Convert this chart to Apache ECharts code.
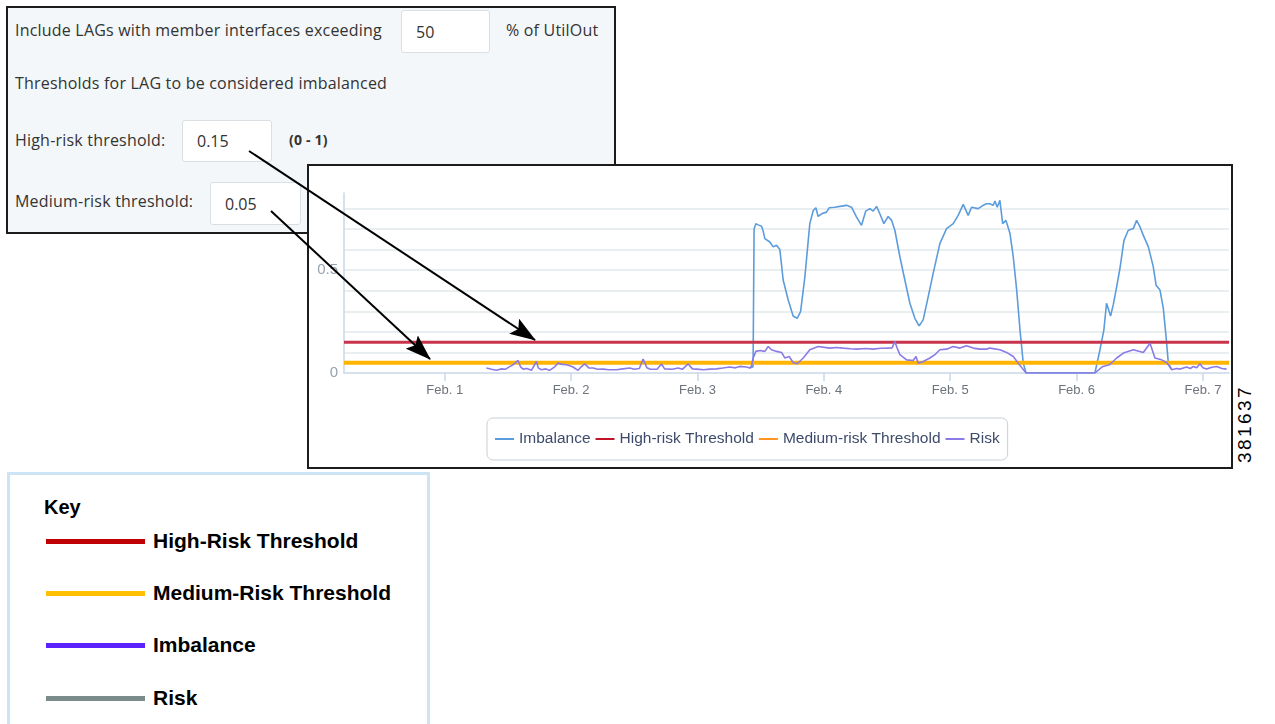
<!DOCTYPE html>
<html>
<head>
<meta charset="utf-8">
<script src="https://cdn.jsdelivr.net/npm/echarts@6/dist/echarts.min.js"></script>
<style>
html,body{margin:0;padding:0;background:#fff;width:1275px;height:724px;overflow:hidden;position:relative;font-family:"Open Sans",sans-serif;}
.abs{position:absolute;}
#form{left:6px;top:6px;width:610px;height:228px;box-sizing:border-box;border:2px solid #1c1c1c;background:#f3f7f9;z-index:1;}
.ft{position:absolute;font-size:16px;color:#333;letter-spacing:0.2px;white-space:nowrap;line-height:20px;}
.inp{position:absolute;background:#fff;border:1px solid #d9dfe3;border-radius:3px;box-sizing:border-box;}
.inp span{position:absolute;left:14px;top:50%;transform:translateY(-50%);font-size:16px;color:#333;}
#chartbox{left:307px;top:164px;width:926px;height:305px;box-sizing:border-box;border:2px solid #1c1c1c;background:#fff;z-index:2;}
#chart{position:absolute;left:0;top:0;width:922px;height:301px;}
#arrows{left:0;top:0;z-index:5;pointer-events:none;}
#key{left:7px;top:472px;width:423px;height:255px;box-sizing:border-box;border:3px solid #cde4f5;background:#fff;}
.kt{position:absolute;font-family:"Liberation Sans",Arial,sans-serif;font-weight:bold;color:#000;white-space:nowrap;line-height:24px;}
.kl{position:absolute;height:5px;width:99px;}
#code{left:1245px;top:424px;font-family:"Liberation Sans",Arial,sans-serif;font-size:19px;letter-spacing:2.4px;color:#000;transform:translate(-50%,-50%) rotate(-90deg);white-space:nowrap;}
</style>
</head>
<body>
<div id="form" class="abs">
  <div class="ft" style="left:7px;top:12px;">Include LAGs with member interfaces exceeding</div>
  <div class="inp" style="left:393px;top:2px;width:89px;height:43px;"><span>50</span></div>
  <div class="ft" style="left:498px;top:12px;">% of UtilOut</div>
  <div class="ft" style="left:7px;top:65px;">Thresholds for LAG to be considered imbalanced</div>
  <div class="ft" style="left:7px;top:122px;">High-risk threshold:</div>
  <div class="inp" style="left:174px;top:112px;width:90px;height:42px;"><span>0.15</span></div>
  <div class="ft" style="left:281px;top:122px;font-size:14px;font-weight:bold;">(0 - 1)</div>
  <div class="ft" style="left:7px;top:183px;">Medium-risk threshold:</div>
  <div class="inp" style="left:202px;top:174px;width:91px;height:43px;"><span>0.05</span></div>
</div>

<div id="chartbox" class="abs"><div id="chart"></div></div>

<svg id="arrows" class="abs" width="1275" height="724">
  <defs>
    <marker id="ah" viewBox="0 0 26 18" refX="25" refY="9" markerWidth="26" markerHeight="18" markerUnits="userSpaceOnUse" orient="auto">
      <path d="M0,0 L26,9 L0,18 L5,9 Z" fill="#000"/>
    </marker>
  </defs>
  <line x1="249" y1="151" x2="535" y2="340" stroke="#000" stroke-width="2" marker-end="url(#ah)"/>
  <line x1="271" y1="211" x2="430" y2="359" stroke="#000" stroke-width="2" marker-end="url(#ah)"/>
</svg>

<div id="key" class="abs">
  <div class="kt" style="left:34px;top:20px;font-size:20px;">Key</div>
  <div class="kl" style="left:36px;top:64px;background:#c00000;"></div>
  <div class="kt" style="left:143px;top:54px;font-size:21px;">High-Risk Threshold</div>
  <div class="kl" style="left:36px;top:116px;background:#ffc000;"></div>
  <div class="kt" style="left:143px;top:106px;font-size:21px;">Medium-Risk Threshold</div>
  <div class="kl" style="left:36px;top:168px;background:#5b22ff;"></div>
  <div class="kt" style="left:143px;top:158px;font-size:21px;">Imbalance</div>
  <div class="kl" style="left:36px;top:221px;background:#7b8a8b;"></div>
  <div class="kt" style="left:143px;top:211px;font-size:21px;">Risk</div>
</div>

<div id="code" class="abs">381637</div>

<script>
// ---- data ----
const dayTicks = [1, 2, 3, 4, 5, 6, 7];
const tickLabels = ['Feb. 1', 'Feb. 2', 'Feb. 3', 'Feb. 4', 'Feb. 5', 'Feb. 6', 'Feb. 7'];
const yLabelValues = [0, 0.5];
const xStart = 0.203, xEnd = 7.206;
const yMax = 0.875;
const highRiskThreshold = 0.15;
const mediumRiskThreshold = 0.05;
const seriesNames = ['Imbalance', 'High-risk Threshold', 'Medium-risk Threshold', 'Risk'];

const imbalanceDays = [3.414,3.440,3.448,3.462,3.480,3.507,3.520,3.533,3.573,3.599,3.626,3.652,3.678,3.718,3.757,3.789,3.816,3.850,3.889,3.916,3.937,3.955,3.982,4.021,4.042,4.087,4.127,4.180,4.219,4.259,4.298,4.332,4.364,4.390,4.417,4.443,4.475,4.509,4.536,4.562,4.602,4.641,4.681,4.720,4.754,4.786,4.826,4.865,4.918,4.971,5.024,5.063,5.103,5.142,5.169,5.221,5.261,5.288,5.314,5.340,5.354,5.372,5.393,5.415,5.441,5.473,5.499,5.526,5.552,5.578,5.600,6.145,6.185,6.216,6.237,6.250,6.269,6.290,6.317,6.343,6.375,6.409,6.449,6.475,6.502,6.528,6.568,6.607,6.629,6.660,6.686,6.708,6.726,6.753];
const imbalanceValues = [0.024,0.030,0.700,0.726,0.720,0.713,0.690,0.653,0.637,0.613,0.621,0.600,0.452,0.355,0.277,0.266,0.298,0.468,0.726,0.790,0.803,0.761,0.774,0.782,0.803,0.806,0.810,0.815,0.806,0.758,0.718,0.787,0.799,0.787,0.810,0.774,0.726,0.761,0.742,0.694,0.564,0.452,0.339,0.266,0.229,0.258,0.371,0.484,0.629,0.702,0.726,0.766,0.820,0.766,0.806,0.799,0.815,0.823,0.823,0.815,0.836,0.806,0.839,0.726,0.742,0.678,0.564,0.403,0.210,0.048,0.000,0.000,0.113,0.210,0.339,0.347,0.277,0.331,0.419,0.508,0.645,0.694,0.702,0.742,0.710,0.669,0.613,0.516,0.427,0.403,0.315,0.177,0.048,0.016];

const riskDays = [1.330,1.370,1.409,1.450,1.480,1.510,1.540,1.580,1.600,1.620,1.650,1.686,1.726,1.740,1.765,1.800,1.830,1.870,1.897,1.930,1.963,1.990,2.015,2.055,2.080,2.108,2.140,2.174,2.210,2.253,2.300,2.359,2.410,2.464,2.500,2.540,2.570,2.600,2.623,2.680,2.715,2.740,2.755,2.800,2.847,2.880,2.926,2.960,2.992,3.050,3.098,3.150,3.200,3.256,3.300,3.335,3.388,3.414,3.428,3.441,3.462,3.494,3.533,3.560,3.586,3.626,3.665,3.692,3.726,3.757,3.789,3.837,3.889,3.955,4.048,4.100,4.153,4.210,4.259,4.330,4.390,4.450,4.496,4.540,4.562,4.580,4.602,4.655,4.707,4.729,4.747,4.786,4.839,4.879,4.918,4.971,5.024,5.077,5.129,5.182,5.235,5.288,5.314,5.393,5.446,5.499,5.538,5.600,6.145,6.208,6.261,6.317,6.370,6.449,6.528,6.581,6.620,6.673,6.713,6.753,6.790,6.819,6.871,6.900,6.924,6.950,6.976,7.000,7.029,7.070,7.108,7.150,7.187];
const riskValues = [0.024,0.018,0.013,0.020,0.018,0.030,0.040,0.061,0.030,0.019,0.022,0.013,0.056,0.025,0.016,0.020,0.013,0.030,0.048,0.042,0.040,0.035,0.029,0.013,0.030,0.044,0.025,0.024,0.018,0.019,0.016,0.016,0.020,0.024,0.018,0.022,0.068,0.025,0.019,0.018,0.044,0.020,0.013,0.018,0.024,0.018,0.044,0.020,0.019,0.016,0.019,0.020,0.024,0.029,0.025,0.032,0.029,0.024,0.035,0.073,0.105,0.109,0.105,0.129,0.113,0.105,0.100,0.073,0.080,0.051,0.045,0.073,0.113,0.129,0.121,0.124,0.121,0.118,0.116,0.119,0.116,0.120,0.121,0.122,0.153,0.121,0.089,0.064,0.061,0.080,0.048,0.056,0.073,0.089,0.113,0.116,0.129,0.121,0.132,0.121,0.116,0.116,0.121,0.113,0.100,0.080,0.048,0.000,0.000,0.032,0.040,0.073,0.097,0.113,0.100,0.145,0.073,0.064,0.051,0.016,0.022,0.019,0.029,0.022,0.032,0.025,0.045,0.025,0.019,0.028,0.032,0.022,0.019];

// ---- build ----
const zip = (xs, ys) => xs.map((x, i) => [x, ys[i]]);
const chart = echarts.init(document.getElementById('chart'), null, {renderer: 'canvas'});
const axisColor = '#c7d8e8';
chart.setOption({
  animation: false,
  grid: {left: 35, right: 2, top: 27, bottom: 94},
  legend: {
    left: 178, top: 252,
    padding: [13, 8],
    itemGap: 5, itemWidth: 19, itemHeight: 2, icon: 'rect',
    borderColor: '#c9d0d5', borderWidth: 1, borderRadius: 6,
    textStyle: {color: '#3d4b6b', fontSize: 15.5, fontFamily: 'Liberation Sans, Arial, sans-serif'},
    data: [
      {name: seriesNames[0]},
      {name: seriesNames[1], itemStyle: {color: '#c0142b'}},
      {name: seriesNames[2], itemStyle: {color: '#ff9420'}},
      {name: seriesNames[3]}
    ]
  },
  xAxis: {
    type: 'value', min: xStart, max: xEnd,
    axisLine: {lineStyle: {color: axisColor, width: 1.5}},
    axisTick: {show: true, length: 8, customValues: dayTicks, lineStyle: {color: axisColor, width: 1.5}},
    axisLabel: {customValues: dayTicks, margin: 11, color: '#6d737b', fontSize: 13,
      fontFamily: 'Liberation Sans, Arial, sans-serif',
      formatter: v => tickLabels[dayTicks.indexOf(Math.round(v))] || ''},
    splitLine: {show: false}
  },
  yAxis: {
    type: 'value', min: 0, max: yMax, interval: 0.1,
    axisLine: {show: true, lineStyle: {color: axisColor, width: 1.5}},
    axisTick: {show: false},
    axisLabel: {customValues: yLabelValues, margin: 6, color: '#97a3af', fontSize: 15,
      fontFamily: 'Liberation Sans, Arial, sans-serif',
      formatter: v => String(Math.round(v * 10) / 10)},
    splitLine: {show: true, showMinLine: false, showMaxLine: false, lineStyle: {color: '#e2eaed', width: 1.5}}
  },
  series: [
    {name: seriesNames[0], type: 'line', showSymbol: false, symbol: 'none',
      data: zip(imbalanceDays, imbalanceValues), lineStyle: {color: '#5d9cdc', width: 1.6}, itemStyle: {color: '#5d9cdc'}},
    {name: seriesNames[1], type: 'line', showSymbol: false, symbol: 'none',
      data: [[xStart, highRiskThreshold], [xEnd, highRiskThreshold]], lineStyle: {color: '#c8334b', width: 3}, itemStyle: {color: '#c8334b'}},
    {name: seriesNames[2], type: 'line', showSymbol: false, symbol: 'none',
      data: [[xStart, mediumRiskThreshold], [xEnd, mediumRiskThreshold]], lineStyle: {color: '#ffb400', width: 4}, itemStyle: {color: '#ffb400'}},
    {name: seriesNames[3], type: 'line', showSymbol: false, symbol: 'none',
      data: zip(riskDays, riskValues), lineStyle: {color: '#8a7be6', width: 1.6}, itemStyle: {color: '#8a7be6'}}
  ]
});
</script>
</body>
</html>
